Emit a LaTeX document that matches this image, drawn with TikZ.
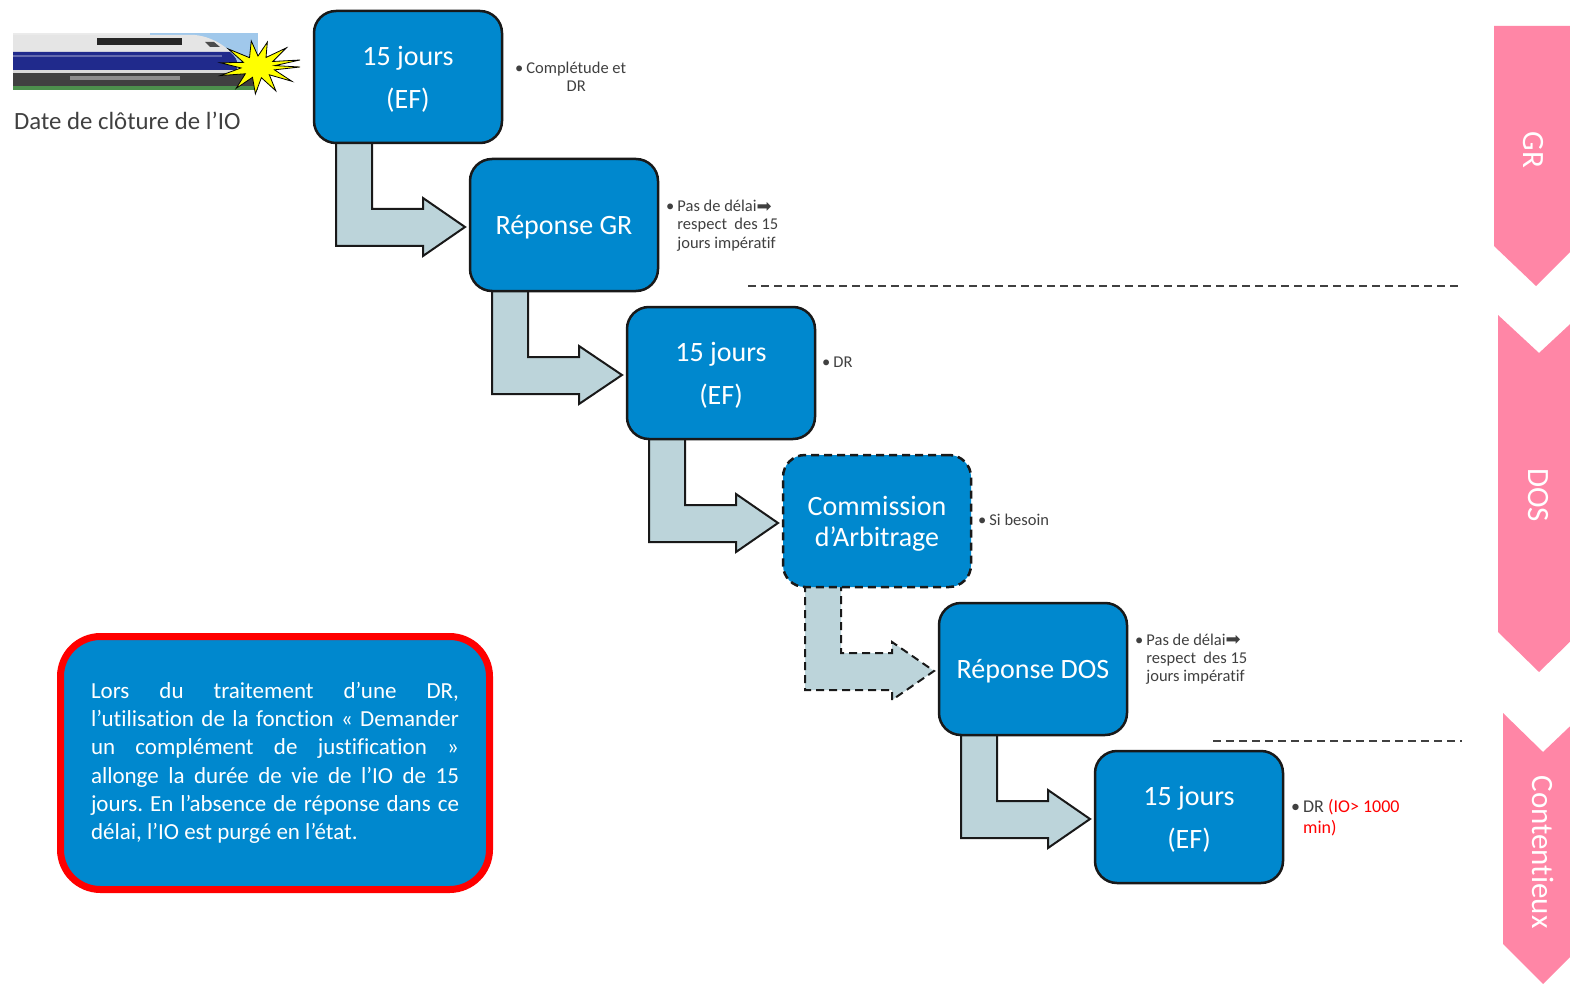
\documentclass[tikz,border=0pt]{standalone}
\usepackage{fontspec}
\setmainfont{Carlito}[Ligatures=NoCommon]
\newfontfamily\symfont{DejaVu Sans}
\usetikzlibrary{calc}
\pgfdeclarelayer{background}
\pgfsetlayers{background,main}
\definecolor{boxblue}{RGB}{0,136,206}
\definecolor{arrowfill}{RGB}{188,212,218}
\definecolor{pinkc}{RGB}{255,134,166}
\definecolor{notegray}{RGB}{64,64,64}
\definecolor{trainblue}{RGB}{32,42,140}
\definecolor{skyblue}{RGB}{160,200,235}
\definecolor{starye}{RGB}{255,255,0}
\newcommand\bentarrow[3][]{%
  \draw[flowarrow,#1] ($(#2.south west)+(22,-3)$) -- ($(#2.south west)+(22,103)$)
    -- ($(#2.south west)+(109,103)$) -- ($(#2.south west)+(109,113)$)
    -- ($(#3.west)+(-5,2)$)
    -- ($(#2.south west)+(109,55)$) -- ($(#2.south west)+(109,66)$)
    -- ($(#2.south west)+(58,66)$) -- ($(#2.south west)+(58,-3)$) -- cycle;}
\newcommand\heavyarrow{{\symfont\fontsize{18}{18}\selectfont\raisebox{-0.5pt}{➡}}}
\newcommand\topstrut{\rule{0pt}{24pt}}
\begin{document}
\frenchspacing
\begin{tikzpicture}[x=1pt,y=-1pt,
  stepbox/.style={rectangle, rounded corners=22pt, draw=black!90, line width=2.5pt,
    fill=boxblue, minimum width=188pt, minimum height=132pt, inner sep=0pt,
    outer sep=0pt, text=white, align=center, font=\fontsize{28}{43}\selectfont},
  dashbox/.style={stepbox, dash pattern=on 8pt off 5pt, font=\fontsize{28}{31}\selectfont},
  flowarrow/.style={draw=black!90, line width=2pt, fill=arrowfill, line join=miter},
  sidenote/.style={anchor=base west, inner sep=0pt, text=notegray, font=\fontsize{16.5}{18}\selectfont},
  chev/.style={fill=pinkc, draw=none},
  chevtext/.style={text=white, rotate=-90, inner sep=0pt, font=\fontsize{31}{31}\selectfont},
  sepline/.style={draw=notegray, line width=1.5pt, dash pattern=on 8pt off 5pt},
  redbox/.style={rectangle, rounded corners=40pt, draw=red, line width=7pt, fill=boxblue,
    minimum width=429pt, minimum height=253pt, inner sep=0pt, outer sep=0pt,
    text=white, align=left, font=\fontsize{23}{28.3}\selectfont}
]
\useasboundingbox (0,0) rectangle (1570,984);
\begin{pgfonlayer}{background}
  \fill[white] (0,0) rectangle (1570,984);
\end{pgfonlayer}

% ---- train picture
\begin{scope}
  \clip (13,33) rectangle (258,90);
  \fill[skyblue] (13,33) rectangle (258,90);
  \fill[black!8] (13,33) rectangle (150,36);
  \fill[black!10] (13,35) -- (195,35) .. controls (215,37) and (232,50) .. (238,62) -- (238,72) -- (13,72) -- cycle;
  \fill[trainblue] (13,52) -- (230,52) .. controls (235,56) and (238,61) .. (238,66) -- (236,70) -- (13,70) -- cycle;
  \fill[trainblue!70!white] (13,55) rectangle (222,57);
  \fill[black!85] (97,38) rectangle (182,45);
  \fill[black!70] (205,42) -- (214,42) -- (220,47) -- (210,47) -- cycle;
  \fill[black!15] (13,70) rectangle (236,73);
  \fill[black!75] (13,73) rectangle (258,86);
  \fill[black!45] (70,76) rectangle (180,80);
  \fill[black!35!green!40!gray] (13,86) rectangle (258,90);
\end{scope}
% ---- star
\coordinate (sc) at (258,67);
\filldraw[fill=starye, draw=black, line width=0.8pt, line join=miter]
  ($(sc)+(0:42 and 26)$) -- ($(sc)+(15:17 and 11)$) -- ($(sc)+(32:40 and 27)$)
  -- ($(sc)+(45:16 and 11)$) -- ($(sc)+(62:38 and 27)$) -- ($(sc)+(77:15 and 11)$)
  -- ($(sc)+(95:30 and 27)$) -- ($(sc)+(110:16 and 11)$) -- ($(sc)+(125:38 and 26)$)
  -- ($(sc)+(142:16 and 11)$) -- ($(sc)+(160:40 and 25)$) -- ($(sc)+(175:17 and 11)$)
  -- ($(sc)+(190:38 and 24)$) -- ($(sc)+(205:16 and 11)$) -- ($(sc)+(222:40 and 27)$)
  -- ($(sc)+(238:16 and 11)$) -- ($(sc)+(255:26 and 27)$) -- ($(sc)+(270:15 and 11)$)
  -- ($(sc)+(287:32 and 26)$) -- ($(sc)+(300:16 and 11)$) -- ($(sc)+(315:40 and 27)$)
  -- ($(sc)+(330:17 and 11)$) -- ($(sc)+(343:44 and 24)$) -- ($(sc)+(352:17 and 10)$) -- cycle;
\node[anchor=base west, inner sep=0pt, text=notegray, font=\fontsize{24.8}{28}\selectfont]
  (date) at (14,130) {Date de clôture de l’IO};

% ---- pink chevrons
\fill[chev] (1494,26) -- (1580,26) -- (1580,242) -- (1536,286) -- (1494,246) -- cycle;
\fill[chev] (1498,315) -- (1539,353) -- (1582,313) -- (1582,630) -- (1539,672) -- (1498,632) -- cycle;
\fill[chev] (1503,713) -- (1543,752) -- (1585,712) -- (1585,942) -- (1543,984) -- (1503,944) -- cycle;
\node[chevtext] (cgr) at (1533,150) {GR};
\node[chevtext] (cdos) at (1538,495) {DOS};
\node[chevtext] (ccont) at (1543,852) {Contentieux};

% ---- separators
\draw[sepline] (748,286) -- (1458,286);
\draw[sepline] (1213,741) -- (1462,741);

% ---- step boxes
\node[stepbox] (b1) at (408,77) {\topstrut 15 jours\\(EF)};
\node[stepbox] (b2) at (564,225) {\topstrut Réponse GR};
\node[stepbox] (b3) at (721,373) {\topstrut 15 jours\\(EF)};
\node[dashbox] (b4) at (877,521) {\topstrut Commission\\d’Arbitrage};
\node[stepbox] (b5) at (1033,669) {\topstrut Réponse DOS};
\node[stepbox] (b6) at (1189,817) {\topstrut 15 jours\\(EF)};

% ---- bent arrows
\begin{pgfonlayer}{background}
  \bentarrow{b1}{b2}
  \bentarrow{b2}{b3}
  \bentarrow{b3}{b4}
  \bentarrow[dash pattern=on 8pt off 5pt]{b4}{b5}
  \bentarrow{b5}{b6}
\end{pgfonlayer}

% ---- side notes
\node[sidenote] (n1) at (515,74) {\textbullet\hspace{3pt}\begin{tabular}[t]{@{}c@{}}Complétude et\\DR\end{tabular}};
\node[sidenote] (n2) at (666,212) {\textbullet\hspace{3pt}\begin{tabular}[t]{@{}l@{}}Pas de délai\heavyarrow\\respect\ \ des 15\\jours impératif\end{tabular}};
\node[sidenote] (n3) at (822,367) {\textbullet\hspace{3pt}DR};
\node[sidenote] (n4) at (978,525) {\textbullet\hspace{3pt}Si besoin};
\node[sidenote] (n5) at (1135,645) {\textbullet\hspace{3pt}\begin{tabular}[t]{@{}l@{}}Pas de délai\heavyarrow\\respect\ \ des 15\\jours impératif\end{tabular}};
\node[sidenote, font=\fontsize{18}{21}\selectfont] (n6) at (1291,812) {\textbullet\hspace{3pt}\begin{tabular}[t]{@{}l@{}}DR {\color{red}(IO> 1000}\\{\color{red}min)}\end{tabular}};

% ---- red note box
\node[redbox] (note) at (275,763) {%
  \makebox[368pt][s]{Lors du traitement d’une DR,}\\
  \makebox[368pt][s]{l’utilisation de la fonction « Demander}\\
  \makebox[368pt][s]{un complément de justification »}\\
  \makebox[368pt][s]{allonge la durée de vie de l’IO de 15}\\
  \makebox[368pt][s]{jours. En l’absence de réponse dans ce}\\
  délai, l’IO est purgé en l’état.};
\end{tikzpicture}
\end{document}
